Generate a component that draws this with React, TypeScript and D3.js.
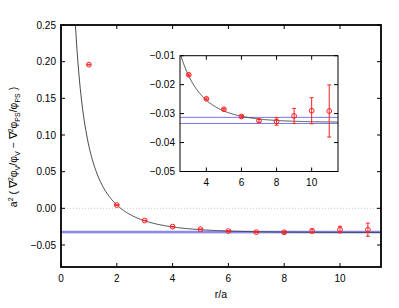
import React from 'react';
import * as d3 from 'd3';

// lattice data: r/a, value, error
const rVals = [1, 2, 3, 4, 5, 6, 7, 8, 9, 10, 11];
const yVals = [0.196, 0.0045, -0.0166, -0.0249, -0.0285, -0.031, -0.0325, -0.0327, -0.0308, -0.029, -0.0291];
const yErrs = [0.0004, 0.0004, 0.0003, 0.0003, 0.0003, 0.0004, 0.0005, 0.0013, 0.0026, 0.0045, 0.009];

// constant fit band and fit curve parameters (c + A exp(-m r)/r)
const bandLo = -0.0334;
const bandHi = -0.0313;
const fitC = -0.033;
const fitA = 0.185;
const fitM = 0.45;

const mainXTicks = [0, 2, 4, 6, 8, 10];
const mainYTicks = [-0.05, 0, 0.05, 0.1, 0.15, 0.2, 0.25];
const insetXTicks = [4, 6, 8, 10];
const insetYTicks = [-0.05, -0.04, -0.03, -0.02, -0.01];

const W = 399;
const H = 308;
const font = '"Liberation Sans", Arial, Helvetica, sans-serif';
const red = '#ff2020';

const fit = (r: number) => fitC + (fitA * Math.exp(-fitM * r)) / r;

function Panel({ x, y, x0, x1, y0, y1, pts, big }: any) {
  const sx = d3.scaleLinear().domain([x0, x1]).range([x.left, x.right]);
  const sy = d3.scaleLinear().domain([y0, y1]).range([y.bottom, y.top]);
  const samples = d3.range(0, 400).map(i => x0 + ((x1 - x0) * i) / 399).filter(r => r > 0.3);
  const line = d3.line<number>().x(r => sx(r)).y(r => sy(Math.max(y0, Math.min(y1, fit(r)))));
  const clip = big ? 'clipMain' : 'clipInset';
  const cap = 2;
  const rad = 2.4;
  return (
    <g>
      <defs>
        <clipPath id={clip}>
          <rect x={x.left} y={y.top} width={x.right - x.left} height={y.bottom - y.top} />
        </clipPath>
      </defs>
      {big && (
        <line x1={sx(x0)} x2={sx(x1)} y1={sy(0)} y2={sy(0)} stroke="#c8c8c8" strokeDasharray="1,2" />
      )}
      <g clipPath={`url(#${clip})`}>
        {big && (
          <rect x={sx(x0)} width={sx(x1) - sx(x0)} y={sy(bandHi)} height={sy(bandLo) - sy(bandHi)} fill="#aab0f0" />
        )}
        <line x1={sx(x0)} x2={sx(x1)} y1={sy(bandHi)} y2={sy(bandHi)} stroke="#7878e8" strokeWidth={1} />
        <line x1={sx(x0)} x2={sx(x1)} y1={sy(bandLo)} y2={sy(bandLo)} stroke="#7878e8" strokeWidth={1} />
        <path d={line(samples) || ''} fill="none" stroke="#333" strokeWidth={0.9} />
        {pts.map((i: number) => {
          const px = sx(rVals[i]);
          const py = sy(yVals[i]);
          const top = sy(yVals[i] + yErrs[i]);
          const bot = sy(yVals[i] - yErrs[i]);
          return (
            <g key={i} stroke={red} fill="none" strokeWidth={1}>
              <line x1={px} x2={px} y1={top} y2={bot} />
              <line x1={px - cap} x2={px + cap} y1={top} y2={top} />
              <line x1={px - cap} x2={px + cap} y1={bot} y2={bot} />
              <circle cx={px} cy={py} r={rad} />
            </g>
          );
        })}
      </g>
      <rect
        x={x.left}
        y={y.top}
        width={x.right - x.left}
        height={y.bottom - y.top}
        fill="none"
        stroke="#000"
        strokeWidth={big ? 1.8 : 1}
      />
      {(big ? mainXTicks : insetXTicks).map(t => (
        <g key={'x' + t}>
          <line x1={sx(t)} x2={sx(t)} y1={y.bottom} y2={y.bottom - 4} stroke="#000" />
          <line x1={sx(t)} x2={sx(t)} y1={y.top} y2={y.top + 4} stroke="#000" />
          <text x={sx(t)} y={y.bottom + (big ? 15 : 14)} textAnchor="middle" fontSize={10}>
            {t}
          </text>
        </g>
      ))}
      {(big ? mainYTicks : insetYTicks).map(t => (
        <g key={'y' + t}>
          <line x1={x.left} x2={x.left + 4} y1={sy(t)} y2={sy(t)} stroke="#000" />
          <line x1={x.right} x2={x.right - 4} y1={sy(t)} y2={sy(t)} stroke="#000" />
          <text x={x.left - 5} y={sy(t) + 3.5} textAnchor="end" fontSize={10}>
            {d3.format('.2f')(t)}
          </text>
        </g>
      ))}
    </g>
  );
}

export default function App() {
  return (
    <div style={{ position: 'absolute', left: 0, top: 0 }}>
      <svg width={W} height={H} fontFamily={font} style={{ display: 'block', background: '#fff' }}>
        <Panel
          big
          x={{ left: 61, right: 381 }}
          y={{ top: 25, bottom: 267 }}
          x0={0}
          x1={11.47}
          y0={-0.08}
          y1={0.25}
          pts={[0, 1, 2, 3, 4, 5, 6, 7, 8, 9, 10]}
        />
        <rect x={180} y={55.7} width={158} height={116} fill="#fff" />
        <Panel
          x={{ left: 180, right: 338 }}
          y={{ top: 55.7, bottom: 171.5 }}
          x0={2.5}
          x1={11.5}
          y0={-0.05}
          y1={-0.01}
          pts={[2, 3, 4, 5, 6, 7, 8, 9, 10]}
        />
        <text x={221} y={298} textAnchor="middle" fontSize={10.5}>
          r/a
        </text>
        <text transform="translate(17,147) rotate(-90)" textAnchor="middle" fontSize={10.5}>
          <tspan>a</tspan>
          <tspan dy={-4} fontSize={7}>2</tspan>
          <tspan dy={4}> ( ∇</tspan>
          <tspan dy={-4} fontSize={7}>2</tspan>
          <tspan dy={4}>φ</tspan>
          <tspan dy={3} fontSize={7}>V</tspan>
          <tspan dy={-3}>/φ</tspan>
          <tspan dy={3} fontSize={7}>V</tspan>
          <tspan dy={-3}> − ∇</tspan>
          <tspan dy={-4} fontSize={7}>2</tspan>
          <tspan dy={4}>φ</tspan>
          <tspan dy={3} fontSize={7}>PS</tspan>
          <tspan dy={-3}>/φ</tspan>
          <tspan dy={3} fontSize={7}>PS</tspan>
          <tspan dy={-3}> )</tspan>
        </text>
      </svg>
    </div>
  );
}
